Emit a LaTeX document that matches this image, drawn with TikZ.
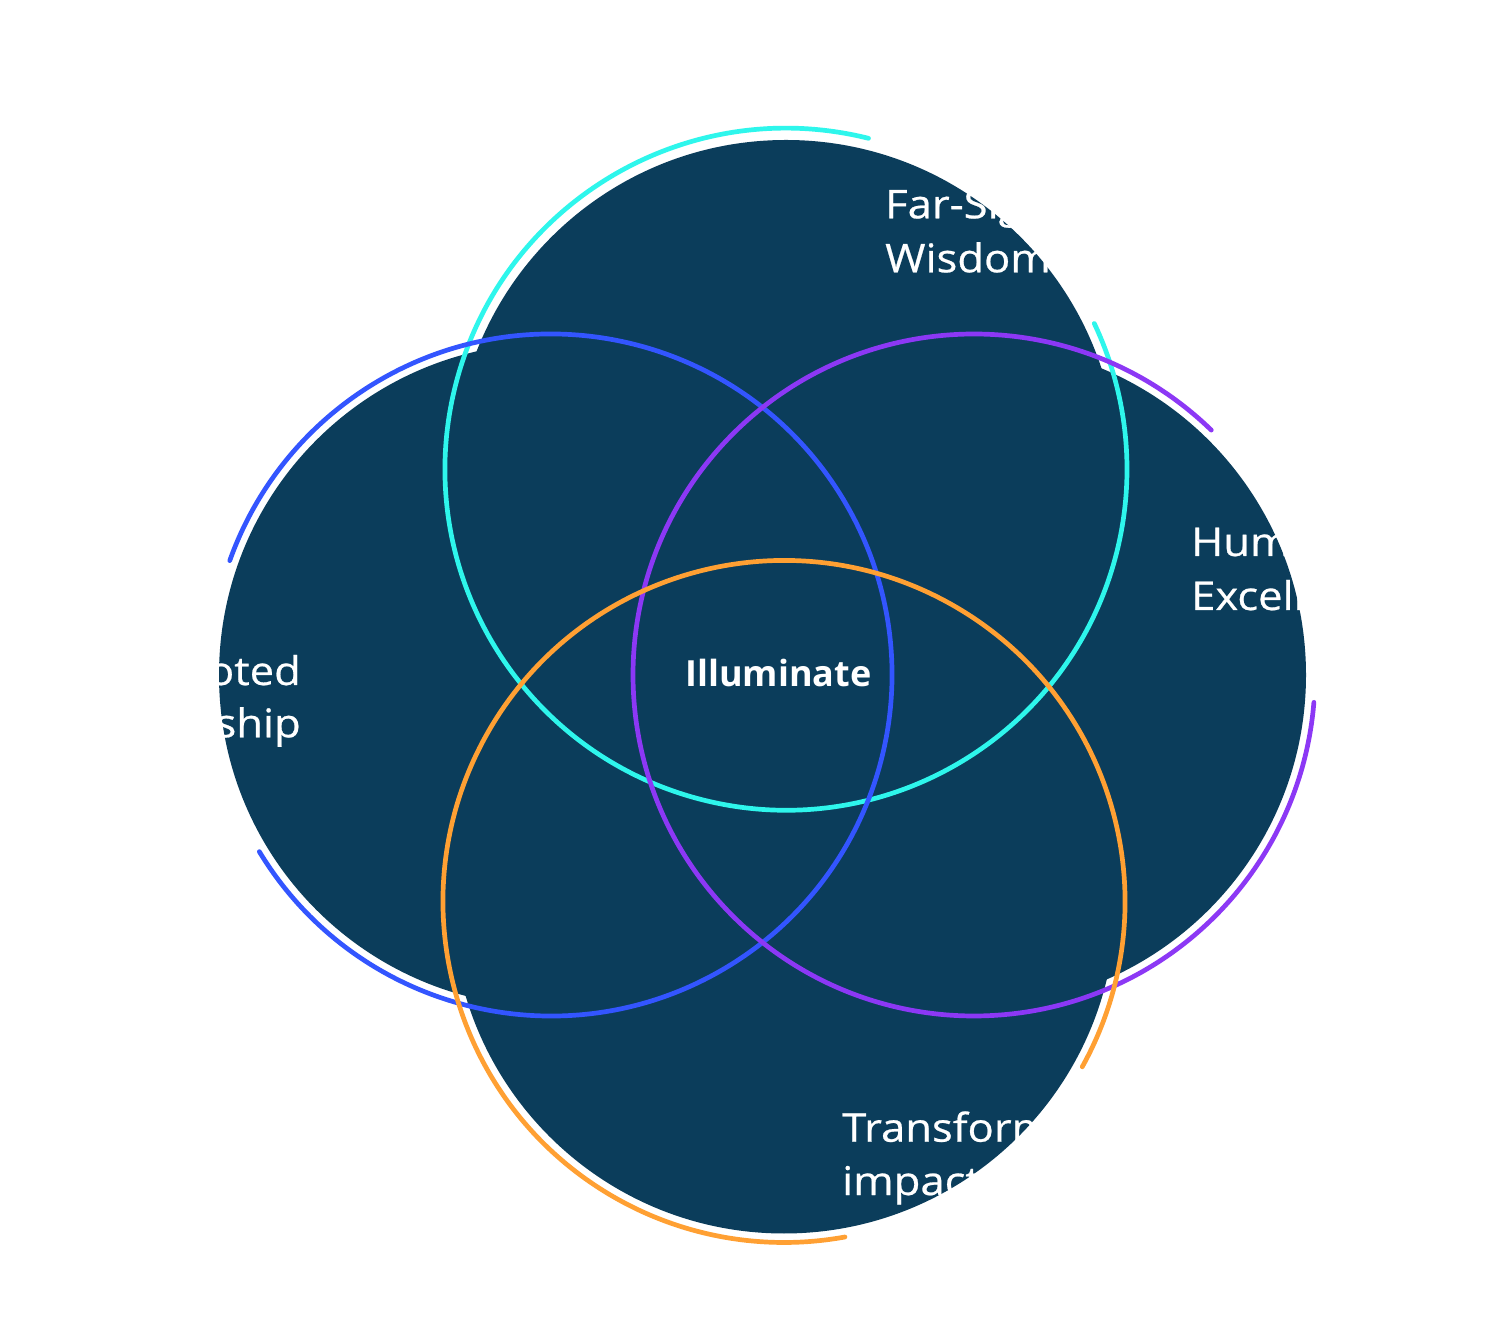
\documentclass[tikz,border=0pt]{standalone}
\usepackage{fontspec}
\setmainfont{Open Sans}
\newfontfamily\labelfont{Open Sans}[FakeStretch=1.1, FakeBold=0.6]
\definecolor{navy}{RGB}{11,61,91}
\definecolor{cyanc}{RGB}{46,246,236}
\definecolor{bluec}{RGB}{51,85,255}
\definecolor{purplec}{RGB}{140,56,245}
\definecolor{orangec}{RGB}{255,160,51}
\begin{document}
\begin{tikzpicture}[x=1pt,y=1pt,
  petal/.style={fill=navy, draw=none},
  ring/.style={line width=4.7pt, line cap=round},
  lbl/.style={text=white, inner sep=0pt, font=\labelfont\fontsize{39.6}{54}\selectfont},
  hub/.style={text=white, inner sep=0pt, font=\fontsize{36}{40}\selectfont\bfseries}]
\useasboundingbox (0,0) rectangle (1502,1323);
\fill[white] (0,0) rectangle (1502,1323);
% centres of the outline rings
\coordinate (cT) at (786,853.8);
\coordinate (cL) at (551,648);
\coordinate (cR) at (974,648);
\coordinate (cB) at (784,421.5);
\coordinate (fT) at (786,851);
% filled discs
\path[petal] (fT) circle[radius=332];
\path[petal] (cL) circle[radius=332];
\path[petal] (cR) circle[radius=332];
\path[petal] (cB) circle[radius=332];
% outline rings with gaps
\draw[ring, cyanc] (cT) ++(76:341) arc[start angle=76, end angle=385.3, radius=341];
\draw[ring, bluec] (cL) ++(211.2:341) arc[start angle=211.2, end angle=520.4, radius=341];
\draw[ring, purplec] (cR) ++(45.9:341) arc[start angle=45.9, end angle=355.4, radius=341];
\draw[ring, orangec] (cB) ++(331:341) arc[start angle=331, end angle=640.3, radius=341];
% labels
\node[lbl, anchor=base west] (topA) at (885,1104.7) {Far-Sighted};
\node[lbl, anchor=base west] (topB) at (885,1050.7) {Wisdom};
\node[lbl, anchor=base west] (rgtA) at (1191,767) {Human};
\node[lbl, anchor=base west] (rgtB) at (1191,713) {Excellence};
\node[lbl, anchor=base west] (botA) at (842,181.3) {Transformative};
\node[lbl, anchor=base west] (botB) at (842,128) {impact};
\node[lbl, anchor=base east] (lftA) at (301,638) {Devoted};
\node[lbl, anchor=base east] (lftB) at (301,585.7) {Leadership};
\node[hub, anchor=base] (mid) at (778.4,636.3) {Illuminate};
\end{tikzpicture}
\end{document}
